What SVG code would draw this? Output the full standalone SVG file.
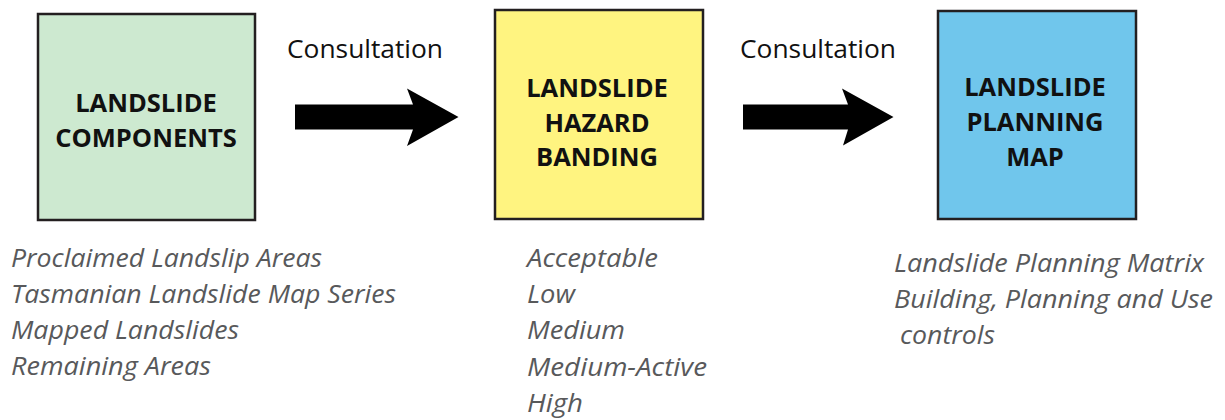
<svg xmlns="http://www.w3.org/2000/svg" width="1225" height="420" viewBox="0 0 1225 420">
  <style>
    .box { stroke: #231f20; stroke-width: 2.5; }
    .title { font-family: "Open Sans", "Liberation Sans", sans-serif; font-weight: 700; font-size: 25.5px; fill: #111; text-anchor: middle; }
    .list { font-family: "Open Sans", "Liberation Sans", sans-serif; font-style: italic; font-size: 25px; fill: #58595b; }
    .list-wide { font-size: 26px; }
    .label { font-family: "Open Sans", "Liberation Sans", sans-serif; font-size: 25.5px; fill: #111; }
    .arrow { fill: #000; }
  </style>

  <rect width="1225" height="420" fill="#ffffff"/>

  <!-- Stage 1 -->
  <g id="landslide-components">
    <rect class="box" x="38" y="14" width="217" height="206" fill="#cde9d0"/>
    <text class="title" x="146" y="112">LANDSLIDE</text>
    <text class="title" x="146" y="147">COMPONENTS</text>
    <text class="list" x="11" y="267" textLength="311" lengthAdjust="spacingAndGlyphs">Proclaimed Landslip Areas</text>
    <text class="list" x="11" y="303" textLength="385" lengthAdjust="spacingAndGlyphs">Tasmanian Landslide Map Series</text>
    <text class="list" x="11" y="339" textLength="228" lengthAdjust="spacingAndGlyphs">Mapped Landslides</text>
    <text class="list" x="11" y="375" textLength="200" lengthAdjust="spacingAndGlyphs">Remaining Areas</text>
  </g>

  <!-- Stage 2 -->
  <g id="landslide-hazard-banding">
    <rect class="box" x="495" y="10" width="208" height="209" fill="#fff480"/>
    <text class="title" x="597" y="97">LANDSLIDE</text>
    <text class="title" x="597" y="131.5">HAZARD</text>
    <text class="title" x="597" y="166">BANDING</text>
    <text class="list" x="527" y="267" textLength="131" lengthAdjust="spacingAndGlyphs">Acceptable</text>
    <text class="list" x="527" y="303" textLength="48" lengthAdjust="spacingAndGlyphs">Low</text>
    <text class="list" x="527" y="339" textLength="98" lengthAdjust="spacingAndGlyphs">Medium</text>
    <text class="list" x="527" y="375.5" textLength="180" lengthAdjust="spacingAndGlyphs">Medium-Active</text>
    <text class="list" x="527" y="411.5" textLength="56" lengthAdjust="spacingAndGlyphs">High</text>
  </g>

  <!-- Stage 3 -->
  <g id="landslide-planning-map">
    <rect class="box" x="938" y="11" width="198" height="208" fill="#70c6ec"/>
    <text class="title" x="1035" y="96">LANDSLIDE</text>
    <text class="title" x="1035" y="131">PLANNING</text>
    <text class="title" x="1035" y="166">MAP</text>
    <text class="list list-wide" x="894" y="272" textLength="310" lengthAdjust="spacingAndGlyphs">Landslide Planning Matrix</text>
    <text class="list list-wide" x="894" y="308" textLength="319" lengthAdjust="spacingAndGlyphs">Building, Planning and Use</text>
    <text class="list list-wide" x="900" y="344" textLength="95" lengthAdjust="spacingAndGlyphs">controls</text>
  </g>

  <!-- Block arrows between stages -->
  <g id="connectors">
    <polygon class="arrow" points="295,104.5 413,104.5 407,88.5 458.5,117 407,146 413,129.5 295,129.5"/>
    <text class="label" x="287" y="57.5" textLength="156" lengthAdjust="spacingAndGlyphs">Consultation</text>
    <polygon class="arrow" points="743,104.5 848,104.5 842,88.5 893.5,117 843,145.5 848,129.5 743,129.5"/>
    <text class="label" x="740" y="57.5" textLength="156" lengthAdjust="spacingAndGlyphs">Consultation</text>
  </g>
</svg>
